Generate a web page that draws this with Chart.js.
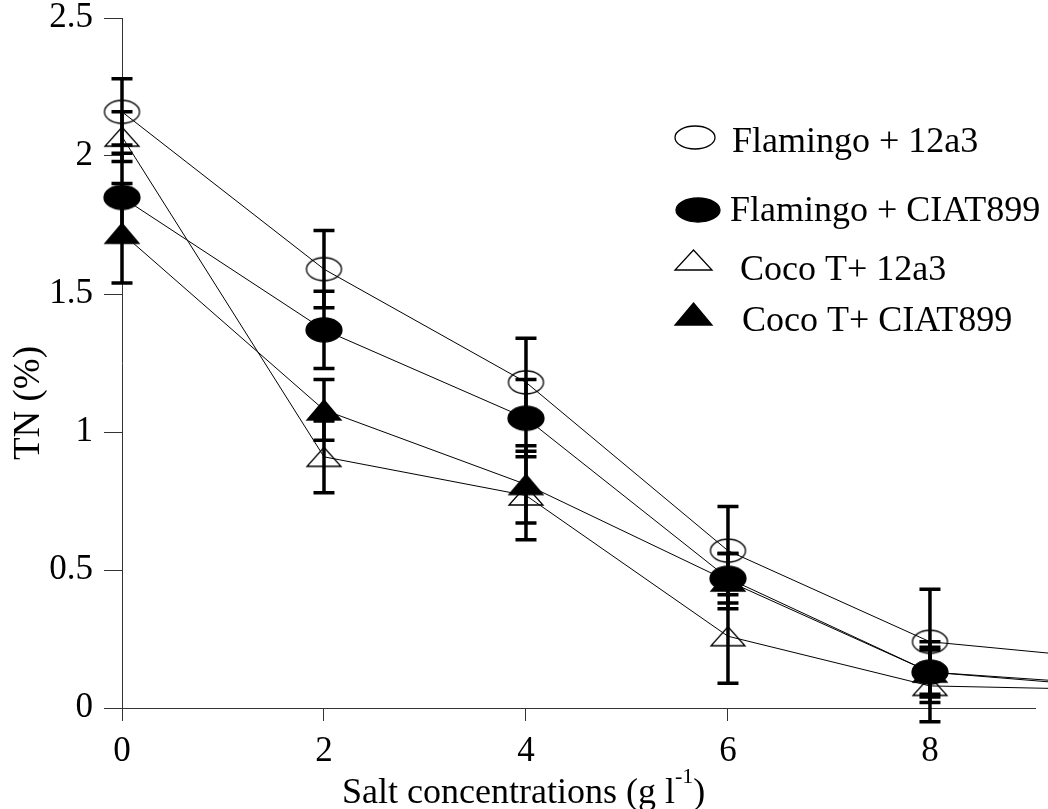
<!DOCTYPE html>
<html>
<head>
<meta charset="utf-8">
<script src="https://cdn.jsdelivr.net/npm/chart.js@4.4.1/dist/chart.umd.min.js"></script>
<style>
  html, body { margin: 0; padding: 0; background: #fff; overflow: hidden; }
  #wrap { position: relative; width: 1048px; height: 809px; }
</style>
</head>
<body>
<div id="wrap"><canvas id="tn-chart"></canvas></div>
<script>
// salt concentration (g/l) and TN (%)
const saltLevels = [0, 2, 4, 6, 8, 10];
const xTicks = [0, 2, 4, 6, 8];
const yTicks = [0, 0.5, 1, 1.5, 2, 2.5];
const yTickLabels = ["0", "0.5", "1", "1.5", "2", "2.5"];
const seriesNames = ["Flamingo + 12a3", "Flamingo + CIAT899", "Coco T+ 12a3", "Coco T+ CIAT899"];

const flamingo12a3 = [2.16, 1.59, 1.18, 0.57, 0.24, 0.17];
const flamingoCIAT899 = [1.85, 1.37, 1.05, 0.47, 0.13, 0.07];
const coco12a3 = [2.07, 0.91, 0.77, 0.26, 0.08, 0.065];
const cocoCIAT899 = [1.72, 1.08, 0.81, 0.46, 0.13, 0.08];

// error bars (+/-)
const flamingo12a3Err = [0.12, 0.14, 0.16, 0.16, 0.19, null];
const flamingoCIAT899Err = [0.16, 0.14, 0.14, 0.09, 0.09, null];
const coco12a3Err = [0.09, 0.13, 0.16, 0.17, 0.13, null];
const cocoCIAT899Err = [0.18, 0.11, 0.14, 0.10, 0.11, null];

const FONT = '"Liberation Serif", "Times New Roman", serif';

function makeMarker(shape, filled, w, h) {
    var c = document.createElement("canvas");
    c.width = w + 4;
    c.height = h + 4;
    var g = c.getContext("2d");
    g.beginPath();
    if (shape === "ellipse") {
        g.ellipse(c.width / 2, c.height / 2, w / 2, h / 2, 0, 0, Math.PI * 2);
    } else {
        g.moveTo(c.width / 2, 2);
        g.lineTo(c.width - 2, c.height - 2);
        g.lineTo(2, c.height - 2);
        g.closePath();
    }
    if (filled) {
        g.fillStyle = "#000";
        g.fill();
    }
    g.strokeStyle = "#000";
    g.lineWidth = 1.3;
    g.stroke();
    return c;
}

const markers = [
    makeMarker("ellipse", false, 35, 23),
    makeMarker("ellipse", true, 36, 24),
    makeMarker("triangle", false, 34, 19),
    makeMarker("triangle", true, 34, 20)
];
const legendMarkers = [
    makeMarker("ellipse", false, 40, 23),
    makeMarker("ellipse", true, 44, 24),
    makeMarker("triangle", false, 37, 20),
    makeMarker("triangle", true, 37, 22)
];

const seriesValues = [flamingo12a3, flamingoCIAT899, coco12a3, cocoCIAT899];
const seriesErrors = [flamingo12a3Err, flamingoCIAT899Err, coco12a3Err, cocoCIAT899Err];

const datasets = seriesNames.map(function (name, k) {
    return {
        label: name,
        data: saltLevels.map((s, i) => ({ x: s, y: seriesValues[k][i] })),
        borderColor: "#000",
        borderWidth: 1,
        backgroundColor: "transparent",
        pointStyle: markers[k],
        pointRadius: 12,
        tension: 0,
        clip: false
    };
});

const errorBars = {
    id: "errorBars",
    beforeDatasetsDraw(chart) {
        const ctx = chart.ctx;
        const xs = chart.scales.x, ys = chart.scales.y;
        ctx.save();
        ctx.strokeStyle = "#000";
        ctx.lineWidth = 3.5;
        seriesValues.forEach(function (vals, k) {
            vals.forEach(function (v, i) {
                const e = seriesErrors[k][i];
                if (e == null) return;
                const x = xs.getPixelForValue(saltLevels[i]);
                const top = ys.getPixelForValue(v + e);
                const bot = ys.getPixelForValue(v - e);
                ctx.beginPath();
                ctx.moveTo(x, top);
                ctx.lineTo(x, bot);
                ctx.moveTo(x - 10.5, top);
                ctx.lineTo(x + 10.5, top);
                ctx.moveTo(x - 10.5, bot);
                ctx.lineTo(x + 10.5, bot);
                ctx.stroke();
            });
        });
        ctx.restore();
    }
};

const legendAndTitles = {
    id: "legendAndTitles",
    afterDraw(chart) {
        const ctx = chart.ctx;
        ctx.save();
        ctx.fillStyle = "#000";

        // legend
        const rows = [
            { mx: 695, my: 137, tx: 732, ty: 152 },
            { mx: 698, my: 210, tx: 730, ty: 221 },
            { mx: 693, my: 260, tx: 740, ty: 280 },
            { mx: 693, my: 314, tx: 742, ty: 331 }
        ];
        ctx.font = "36px " + FONT;
        ctx.textBaseline = "alphabetic";
        ctx.textAlign = "left";
        rows.forEach(function (r, k) {
            const m = legendMarkers[k];
            ctx.drawImage(m, Math.round(r.mx - m.width / 2), Math.round(r.my - m.height / 2));
            ctx.fillText(seriesNames[k], r.tx, r.ty);
        });

        // x axis title with superscript
        const base = 803;
        let x = 342;
        const part1 = "Salt concentrations (g l";
        ctx.fillText(part1, x, base);
        x += ctx.measureText(part1).width;
        ctx.font = "22px " + FONT;
        ctx.fillText("-1", x, base - 20);
        x += ctx.measureText("-1").width;
        ctx.font = "36px " + FONT;
        ctx.fillText(")", x, base);

        // y axis title
        ctx.translate(29, 403);
        ctx.rotate(-Math.PI / 2);
        ctx.textAlign = "center";
        ctx.textBaseline = "middle";
        ctx.font = "37px " + FONT;
        ctx.fillText("TN (%)", 0, 0);
        ctx.restore();
    }
};

var ctx = document.getElementById("tn-chart");
var chartGraph = new Chart(ctx, {
    type: "line",
    data: { datasets: datasets },
    plugins: [errorBars, legendAndTitles],
    options: {
        responsive: true,
        maintainAspectRatio: false,
        animation: false,
        events: [],
        layout: { padding: { top: 18, right: 0, left: 0, bottom: 0 } },
        plugins: { legend: { display: false }, tooltip: { enabled: false } },
        scales: {
            x: {
                type: "linear",
                min: 0,
                max: 9.04,
                afterBuildTicks: (scale) => { scale.ticks = xTicks.map(v => ({ value: v })); },
                afterFit: (scale) => { scale.height = 101; },
                grid: { drawOnChartArea: false, drawTicks: true, tickLength: 13, color: "#333", lineWidth: 1 },
                border: { display: true, color: "#333", width: 1 },
                ticks: { color: "#000", padding: 13, maxRotation: 0, font: { family: FONT, size: 35, lineHeight: 1 } }
            },
            y: {
                min: 0,
                max: 2.5,
                afterBuildTicks: (scale) => { scale.ticks = yTicks.map(v => ({ value: v })); },
                afterFit: (scale) => {
                    scale.width = 122;
                    scale.paddingTop = 0;
                    scale.paddingBottom = 0;
                },
                grid: { drawOnChartArea: false, drawTicks: true, tickLength: 18, color: "#333", lineWidth: 1 },
                border: { display: true, color: "#333", width: 1 },
                ticks: {
                    color: "#000",
                    padding: 11,
                    font: { family: FONT, size: 35, lineHeight: 1 },
                    callback: (value, index) => yTickLabels[index]
                }
            }
        }
    }
});
</script>
</body>
</html>
